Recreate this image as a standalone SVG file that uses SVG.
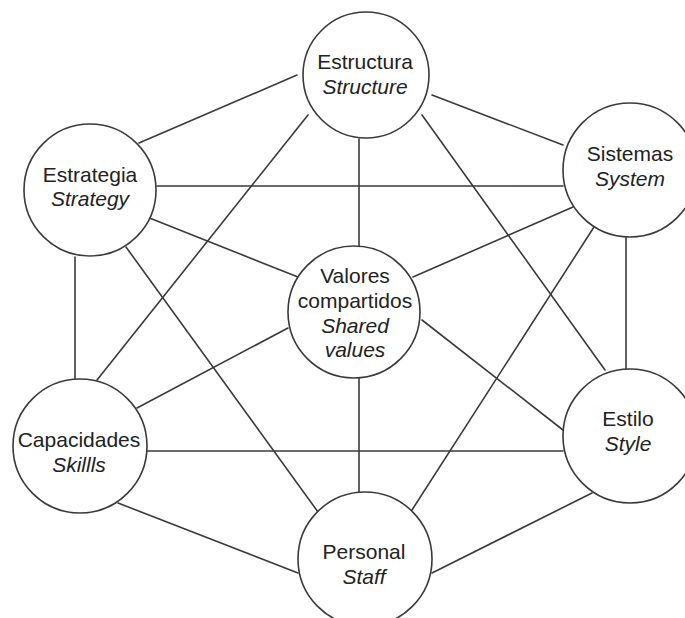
<svg xmlns="http://www.w3.org/2000/svg" width="685" height="618" viewBox="0 0 685 618">
<style>
.e{stroke:#3a3a3a;stroke-width:1.6;fill:none;stroke-linecap:round}
.n{fill:#fff;stroke:#3a3a3a;stroke-width:1.6}
.t{font-family:"Liberation Sans",Arial,sans-serif;font-size:21px;fill:#222;text-anchor:middle}
.i{font-style:italic}
</style>
<rect width="685" height="618" fill="#fff"/>
<g id="connectors">
<line class="e" x1="297" y1="75" x2="139" y2="143"/>
<line class="e" x1="432" y1="95" x2="563" y2="145"/>
<line class="e" x1="359" y1="139" x2="359" y2="246"/>
<line class="e" x1="308" y1="115" x2="97" y2="380"/>
<line class="e" x1="422" y1="115" x2="605" y2="370"/>
<line class="e" x1="157" y1="186" x2="563" y2="186"/>
<line class="e" x1="147" y1="217" x2="298" y2="277"/>
<line class="e" x1="75" y1="257" x2="75" y2="379"/>
<line class="e" x1="126" y1="247" x2="318" y2="512"/>
<line class="e" x1="573" y1="207" x2="413" y2="277"/>
<line class="e" x1="594" y1="227" x2="412" y2="510"/>
<line class="e" x1="626" y1="237" x2="626" y2="369"/>
<line class="e" x1="288" y1="328" x2="137" y2="408"/>
<line class="e" x1="422" y1="320" x2="563" y2="430"/>
<line class="e" x1="359" y1="378" x2="359" y2="492"/>
<line class="e" x1="147" y1="451" x2="563" y2="451"/>
<line class="e" x1="118" y1="503" x2="298" y2="573"/>
<line class="e" x1="592" y1="493" x2="432" y2="573"/>
</g>
<g id="estructura">
<circle class="n" cx="366" cy="75" r="63"/>
<text class="t" x="365" y="69">Estructura</text>
<text class="t i" x="365" y="94">Structure</text>
</g>
<g id="estrategia">
<circle class="n" cx="90" cy="190" r="66"/>
<text class="t" x="90" y="182">Estrategia</text>
<text class="t i" x="90" y="206">Strategy</text>
</g>
<g id="sistemas">
<circle class="n" cx="630" cy="170" r="67"/>
<text class="t" x="630" y="161">Sistemas</text>
<text class="t i" x="630" y="186">System</text>
</g>
<g id="valores">
<circle class="n" cx="354" cy="312" r="66"/>
<text class="t" x="355" y="283">Valores</text>
<text class="t" x="355" y="308">compartidos</text>
<text class="t i" x="355" y="333">Shared</text>
<text class="t i" x="355" y="357">values</text>
</g>
<g id="capacidades">
<circle class="n" cx="80" cy="446" r="67"/>
<text class="t" x="79" y="447">Capacidades</text>
<text class="t i" x="79" y="472">Skillls</text>
</g>
<g id="estilo">
<circle class="n" cx="630" cy="436" r="67"/>
<text class="t" x="628" y="426">Estilo</text>
<text class="t i" x="628" y="451">Style</text>
</g>
<g id="personal">
<circle class="n" cx="365" cy="559" r="67"/>
<text class="t" x="364" y="559">Personal</text>
<text class="t i" x="364" y="584">Staff</text>
</g>
</svg>
